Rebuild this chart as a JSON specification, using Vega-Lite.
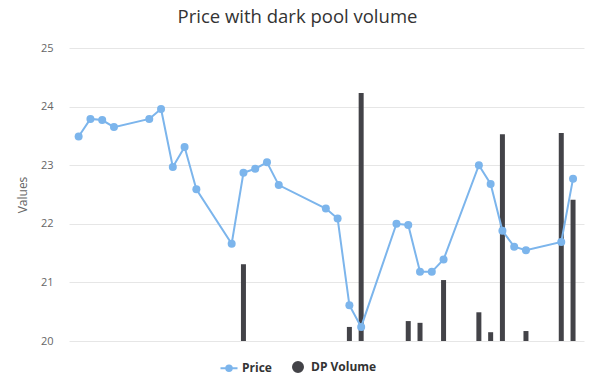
{
  "$schema": "https://vega.github.io/schema/vega-lite/v6.json",
  "width": 515,
  "height": 293,
  "autosize": {"type": "none"},
  "padding": {"left": 69, "top": 48, "right": 6, "bottom": 40},
  "background": "#ffffff",
  "config": {
    "view": {"stroke": null},
    "font": "Open Sans"
  },
  "title": {
    "text": "Price with dark pool volume",
    "fontSize": 18.5,
    "fontWeight": "normal",
    "color": "#333333",
    "font": "Open Sans",
    "anchor": "middle",
    "dx": -29,
    "offset": 16
  },
  "datasets": {
    "prices": [
      {"date": "2023-08-15", "price": 23.49},
      {"date": "2023-08-16", "price": 23.79},
      {"date": "2023-08-17", "price": 23.77},
      {"date": "2023-08-18", "price": 23.65},
      {"date": "2023-08-21", "price": 23.79},
      {"date": "2023-08-22", "price": 23.96},
      {"date": "2023-08-23", "price": 22.97},
      {"date": "2023-08-24", "price": 23.31},
      {"date": "2023-08-25", "price": 22.59},
      {"date": "2023-08-28", "price": 21.66},
      {"date": "2023-08-29", "price": 22.87},
      {"date": "2023-08-30", "price": 22.94},
      {"date": "2023-08-31", "price": 23.05},
      {"date": "2023-09-01", "price": 22.66},
      {"date": "2023-09-05", "price": 22.26},
      {"date": "2023-09-06", "price": 22.09},
      {"date": "2023-09-07", "price": 20.61},
      {"date": "2023-09-08", "price": 20.24},
      {"date": "2023-09-11", "price": 22.00},
      {"date": "2023-09-12", "price": 21.98},
      {"date": "2023-09-13", "price": 21.18},
      {"date": "2023-09-14", "price": 21.18},
      {"date": "2023-09-15", "price": 21.39},
      {"date": "2023-09-18", "price": 23.00},
      {"date": "2023-09-19", "price": 22.68},
      {"date": "2023-09-20", "price": 21.88},
      {"date": "2023-09-21", "price": 21.61},
      {"date": "2023-09-22", "price": 21.55},
      {"date": "2023-09-25", "price": 21.69},
      {"date": "2023-09-26", "price": 22.77}
    ],
    "dp": [
      {"date": "2023-08-29", "dpv": 21.31},
      {"date": "2023-09-07", "dpv": 20.24},
      {"date": "2023-09-08", "dpv": 24.23},
      {"date": "2023-09-12", "dpv": 20.34},
      {"date": "2023-09-13", "dpv": 20.31},
      {"date": "2023-09-15", "dpv": 21.04},
      {"date": "2023-09-18", "dpv": 20.49},
      {"date": "2023-09-19", "dpv": 20.15},
      {"date": "2023-09-20", "dpv": 23.53},
      {"date": "2023-09-22", "dpv": 20.17},
      {"date": "2023-09-25", "dpv": 23.55},
      {"date": "2023-09-26", "dpv": 22.41}
    ]
  },
  "encoding": {
    "x": {
      "field": "date",
      "type": "temporal",
      "scale": {
        "type": "utc",
        "padding": 0,
        "domain": [
          {"year": 2023, "month": 8, "date": 14, "hours": 4, "minutes": 20, "utc": true},
          {"year": 2023, "month": 9, "date": 26, "hours": 22, "minutes": 20, "utc": true}
        ]
      },
      "axis": null
    }
  },
  "layer": [
    {
      "data": {"name": "dp"},
      "mark": {"type": "bar", "width": 5, "color": "#434348"},
      "encoding": {
        "y": {
          "field": "dpv",
          "type": "quantitative",
          "scale": {"domain": [20, 25], "zero": false, "nice": false},
          "axis": {
            "title": "Values",
            "values": [20, 21, 22, 23, 24, 25],
            "format": "d",
            "grid": true,
            "gridColor": "#e6e6e6",
            "domain": false,
            "ticks": false,
            "labelColor": "#666666",
            "labelFontSize": 11,
            "labelPadding": 16,
            "labelFont": "Open Sans",
            "titleColor": "#666666",
            "titleFontSize": 12,
            "titleFontWeight": "normal",
            "titleFont": "Open Sans",
            "titlePadding": 11
          }
        },
        "y2": {"datum": 20},
        "color": {
          "datum": "DP Volume",
          "type": "nominal",
          "scale": {"domain": ["Price", "DP Volume"], "range": ["#7cb5ec", "#434348"]},
          "legend": {
            "title": null,
            "orient": "none",
            "direction": "horizontal",
            "legendX": 154,
            "legendY": 313,
            "labelFontSize": 12,
            "labelFontWeight": "bold",
            "labelColor": "#333333",
            "labelFont": "Open Sans",
            "labelOffset": 7,
            "symbolSize": 100,
            "columnPadding": 17,
            "symbolOpacity": 1,
            "encode": {
              "symbols": {
                "update": {
                  "shape": {"signal": "datum.value === 'Price' ? 'M -1.7 0 L 1.7 0 M -0.55 0 A 0.55 0.55 0 1 0 0.55 0 A 0.55 0.55 0 1 0 -0.55 0' : 'circle'"},
                  "strokeWidth": {"value": 2},
                  "stroke": {"signal": "datum.value === 'Price' ? '#7cb5ec' : '#434348'"},
                  "fill": {"signal": "datum.value === 'Price' ? '#7cb5ec' : '#434348'"},
                  "fillOpacity": {"value": 1}
                }
              }
            }
          }
        }
      }
    },
    {
      "data": {"name": "prices"},
      "mark": {"type": "line", "strokeWidth": 2, "point": {"size": 64, "filled": true, "opacity": 1}},
      "encoding": {
        "y": {"field": "price", "type": "quantitative"},
        "color": {"datum": "Price", "type": "nominal"}
      }
    }
  ]
}
